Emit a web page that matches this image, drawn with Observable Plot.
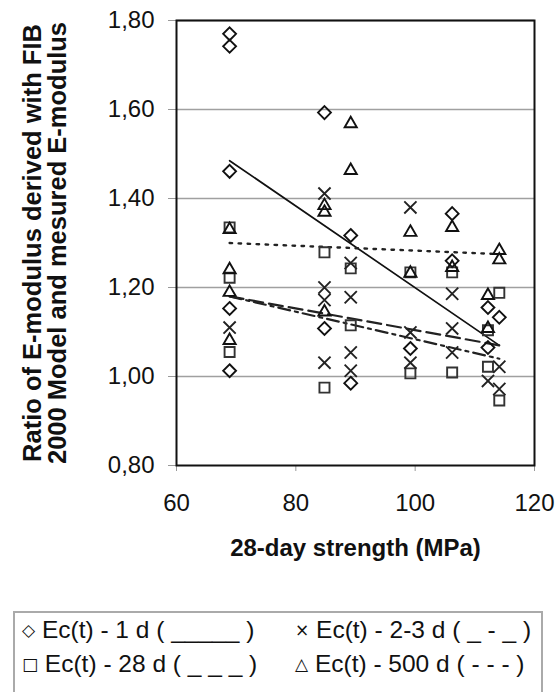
<!DOCTYPE html>
<html>
<head>
<meta charset="utf-8">
<script src="https://cdn.jsdelivr.net/npm/d3@7"></script>
<script src="https://cdn.jsdelivr.net/npm/@observablehq/plot@0.6"></script>
<style>
  html, body { margin: 0; padding: 0; background: #fff; overflow: hidden; }
  #wrap { position: relative; width: 560px; height: 692px; font-family: "Liberation Sans", Arial, sans-serif; }
  #legend { position: absolute; left: 13px; top: 611px; width: 530px; height: 95px; border: 2px solid #aaa; box-sizing: border-box;
            font-size: 24.5px; color: #111; }
  .row { position: absolute; left: 0; right: 0; height: 30px; white-space: nowrap; }
  .c1 { position: absolute; left: 7px; }
  .c2 { position: absolute; left: 280px; }
  .sym { font-family: "DejaVu Sans", sans-serif; font-size: 17px; position: relative; top: -2px; }
</style>
</head>
<body>
<div id="wrap"></div>
<script>
// ---- data ----
const strength = [68.9, 84.8, 89.2, 99.2, 106.2, 112.2, 114.1];   // 28-day strength (MPa)
const ec1d   = [[1.770, 1.742, 1.461, 1.153, 1.013], [1.593, 1.108], [1.317, 0.985], [1.063], [1.366, 1.260], [1.155, 1.065], [1.133]];
const ec23d  = [[1.110], [1.411, 1.200, 1.172, 1.031], [1.255, 1.178, 1.054, 1.013], [1.380, 1.099, 1.031], [1.186, 1.108, 1.054], [0.990], [1.022, 0.972]];
const ec28d  = [[1.335, 1.222, 1.055], [1.279, 0.975], [1.243, 1.115], [1.234, 1.007], [1.234, 1.009], [1.104, 1.022], [1.188, 0.946]];
const ec500d = [[1.330, 1.240, 1.189, 1.081], [1.384, 1.369, 1.145], [1.568, 1.463], [1.324, 1.232], [1.335, 1.245], [1.182, 1.108], [1.283, 1.262]];
// trend lines (start/end values at the first and last strength)
const trendX      = [68.9, 114.1];
const trend1d     = [1.485, 1.070];
const trend23d    = [1.180, 1.040];
const trend28d    = [1.180, 1.070];
const trend500d   = [1.300, 1.275];
const xTicks = [60, 80, 100, 120];
const yTicks = [0.8, 1.0, 1.2, 1.4, 1.6, 1.8];
const gridTicks = [1.0, 1.2, 1.4, 1.6, 1.8];
const yTitle = "Ratio of E-modulus derived with FIB\n2000 Model and mesured E-modulus";
const xTitle = "28-day strength (MPa)";
const legendLabels = ["Ec(t) - 1 d ( _____ )", "Ec(t) - 2-3 d ( _ - _ )", "Ec(t) - 28 d ( _ _ _ )", "Ec(t) - 500 d ( - - - )"];

// ---- build tables ----
const flat = (vals) => vals.flatMap((ys, i) => ys.map(y => ({x: strength[i], y})));
const trend = (ys) => trendX.map((x, i) => ({x, y: ys[i]}));
const fmt = d => d.toFixed(2).replace(".", ",");

const chart = Plot.plot({
  width: 560,
  height: 575,
  marginLeft: 176,
  marginRight: 26,
  marginTop: 20,
  marginBottom: 110,
  style: {fontFamily: "'Liberation Sans', Arial, sans-serif", background: "#fff", color: "#111", overflow: "visible"},
  x: {domain: [60, 120]},
  y: {domain: [0.8, 1.8]},
  marks: [
    Plot.gridY(gridTicks, {stroke: "#a0a0a0", strokeOpacity: 1, strokeWidth: 1.5}),
    Plot.axisY({ticks: yTicks, tickFormat: fmt, tickSize: 8, tickPadding: 14, label: null, fontSize: 24, stroke: "#999"}),
    Plot.axisX({ticks: xTicks, tickSize: 6, tickPadding: 22, label: null, fontSize: 24, stroke: "#999"}),
    Plot.frame({stroke: "#111", strokeWidth: 2}),
    Plot.line(trend(trend1d),   {x: "x", y: "y", stroke: "#111", strokeWidth: 1.7}),
    Plot.line(trend(trend500d), {x: "x", y: "y", stroke: "#222", strokeWidth: 2.4, strokeDasharray: "2.5,6.5"}),
    Plot.line(trend(trend28d),  {x: "x", y: "y", stroke: "#222", strokeWidth: 2.2, strokeDasharray: "14,6"}),
    Plot.line(trend(trend23d),  {x: "x", y: "y", stroke: "#222", strokeWidth: 2.2, strokeDasharray: "12,5,3,5"}),
    Plot.dot(flat(ec28d),  {x: "x", y: "y", symbol: "square2",   r: 6.4, stroke: "#333", strokeWidth: 1.9, fill: "none"}),
    Plot.dot(flat(ec500d), {x: "x", y: "y", symbol: "triangle2", r: 5.8, stroke: "#111", strokeWidth: 1.9, fill: "none"}),
    Plot.dot(flat(ec23d),  {x: "x", y: "y", symbol: "times",     r: 5.6, stroke: "#222", strokeWidth: 1.9, fill: "none"}),
    Plot.dot(flat(ec1d),   {x: "x", y: "y", symbol: "diamond2",  r: 5.8, stroke: "#111", strokeWidth: 1.9, fill: "none"}),
    Plot.text([yTitle], {text: d => d, frameAnchor: "left", rotate: -90, dx: -131, textAnchor: "middle", lineAnchor: "middle",
                         lineHeight: 1.0, fontSize: 25.5, fontWeight: "bold", fill: "#111"}),
    Plot.text([xTitle], {text: d => d, frameAnchor: "bottom", dy: 83, textAnchor: "middle", lineAnchor: "middle",
                         fontSize: 24, fontWeight: "bold", fill: "#111"})
  ]
});

const wrap = document.getElementById("wrap");
wrap.appendChild(chart);

const legend = document.createElement("div");
legend.id = "legend";
const syms = ["◇", "×", "□", "△"];
legend.innerHTML = `
  <div class="row" style="top:3px"><span class="c1"><span class="sym">${syms[0]}</span> ${legendLabels[0]}</span><span class="c2"><span class="sym">${syms[1]}</span> ${legendLabels[1]}</span></div>
  <div class="row" style="top:37px"><span class="c1"><span class="sym">${syms[2]}</span> ${legendLabels[2]}</span><span class="c2"><span class="sym">${syms[3]}</span> ${legendLabels[3]}</span></div>`;
wrap.appendChild(legend);
</script>
</body>
</html>
